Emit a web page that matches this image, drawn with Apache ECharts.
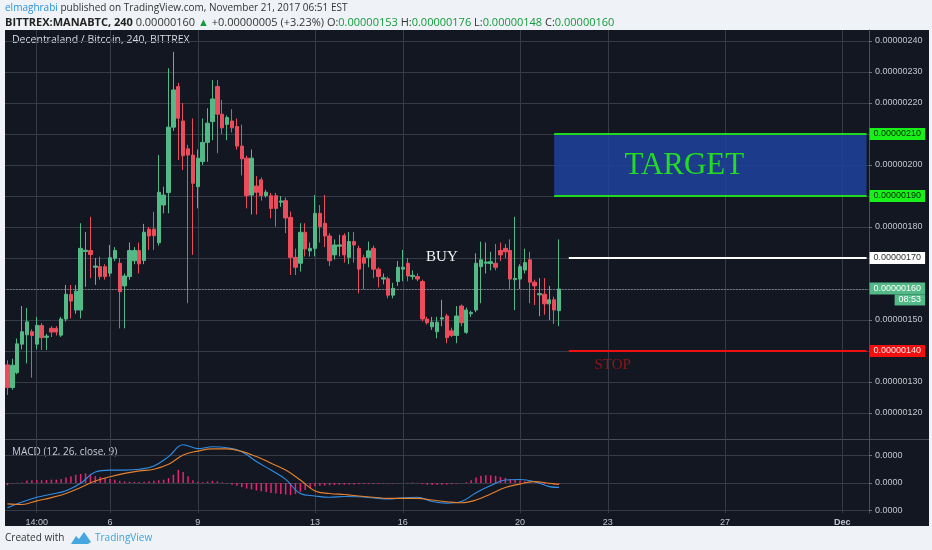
<!DOCTYPE html>
<html><head><meta charset="utf-8">
<script src="https://cdn.jsdelivr.net/npm/echarts@6/dist/echarts.min.js"></script>
<style>
html,body{margin:0;padding:0;background:#eff2f6;}
#pane{position:absolute;left:5px;top:30px;width:924px;height:496px;background:#131722;}
#c{position:absolute;left:0;top:0;width:932px;height:550px;}
</style>
</head><body><div id="pane"></div><div id="c"></div>
<script>
// ---- data (prices in satoshi = 1e-8 BTC) ----
const startTimeUTC = Date.UTC(2017, 10, 2, 12, 0);
const slotCount = 177;
const tickTimes = ['11-03 12:00','11-06 00:00','11-09 00:00','11-13 00:00','11-16 00:00','11-20 00:00','11-23 00:00','11-27 00:00','12-01 00:00'];
const tickLabels = ['14:00','6','9','13','16','20','23','27','Dec'];
const priceTicks = [120,130,140,150,160,170,180,190,200,210,220,230,240];
const macdTicks = [-10,0,10];

const opens = [135.5,128.2,133,142.2,145.2,146.2,142.2,148.2,144.4,147.3,
147.3,145.1,150.3,158.2,153.2,153.2,172.1,172.4,167,167.2,
167.2,165.1,169.9,168.3,161,164,169.1,172.4,169.2,179.3,
179.3,174.9,187.1,191.1,212.2,225.3,214.2,205.2,203.2,193,
201.1,207.3,214,225.3,216.4,213.1,214.2,212.4,206.1,202.2,
190.3,193.2,195.2,190.1,190.1,190.1,188.0,188.5,183.1,170.2,
168.3,178.3,172.3,173.1,184.4,181.2,177.1,171,173.8,177.2,
170.2,175.3,173.1,170.1,170.2,173.1,166.4,163.2,163.3,158,
162.4,166.4,168.3,164,164,162.4,150.3,147.8,146.2,150.3,
151.3,146.5,145,154.5,146,152.0,153.2,167.2,168.3,168.2,
168.3,172.4,173.1,172.4,163.0,163.2,166.1,169.4,162.2,158.1,
158.3,155.2,156.5,153];
const closes = [128.2,135.4,142.3,146.2,149.4,145.0,148.3,144.3,144.8,146.1,
146.1,150.3,158.3,156.1,159.3,173.1,172.5,171.1,167.4,164,
164,170.1,172.4,159.1,164.2,172.4,172.4,168.1,178.3,177.1,
177.2,191.2,190.3,212.2,224.2,215.1,203,203.2,194.1,202.2,
207.3,213.5,221.3,216.4,212,215.3,212,206.1,202,190.1,
202.2,191.2,190.1,191.2,186,186,188.4,182.9,170.2,167,
178.3,172.9,173.1,184.4,180.1,177.1,169.1,174.2,174.2,171,
175.3,174.2,166.4,168.3,172.3,166.4,164,163.6,158,160.2,
167,167,164.2,164.4,163.2,150.3,149.1,149.3,149.3,150.7,
144.3,145,151.3,149.1,153.2,152.4,168.3,169.4,168.7,168.8,
167,171,172,163.2,163.4,167.2,168.5,162.2,161,158.5,
155.2,156.5,153.2,160];
const lows = [125.8,127.5,132.5,140.5,136,131.4,140.5,140.3,140.3,144.5,
145,144.5,149.5,150.5,152,150.5,160.7,163.5,161.3,163,
163,164,169,147.3,147.3,163,168,165,168,172.6,
172.6,174,184.4,184.4,211,201.6,198.4,155.4,171,186,
200,201,208,203.8,210,208,210.5,205,196.6,186,
184,184,188.5,189.5,182.8,180.1,186.5,178,164.5,164.5,
165.6,170.5,170.5,170.5,175,173.5,167.4,169.5,170.5,168.5,
168,168.5,158.6,160,167,163.5,160.5,161.5,157,157,
161,162.5,162.5,163,162.5,149.5,148.5,146.8,144.1,148,
142.5,144.5,142.5,148,145.5,151,152.5,155.4,165,166,
166,169,170,160,153.2,160,165,155.4,154.8,151.2,
151.7,150,148.7,148];
const highs = [137,137.5,144,154.5,153.9,147,151,149,145.5,148,
148,151,161.3,161.3,161.3,181.2,178.4,183.3,170,170.4,
168,174.2,173.5,170,165,175,173.5,175,181,180,
184.9,203.2,193,231.2,236.5,226.5,220,206.5,215,205,
215,218.3,227.4,227.4,221,216,218,215,213,203,
205,196.4,196,192,191,191,190,189.5,185,173,
181.2,181.2,175,190.3,187.1,190.3,178,176,177.5,178,
178.4,178.4,174,171,175.3,174,167,165,164,162,
169,172.6,170,166,165,163,151,151,151,156.5,
152,147.5,154.5,155,154,153,171.5,175.3,175,172,
174.5,175,174.5,176,183.3,168,173,172,163,163.5,
163.5,161,157.5,176];

const macdSlots = [0,3,6,9,12,15,18,21,24,27,30,33,36,39,42,45,48,51,54,57,60,63,66,69,72,75,78,81,84,87,90,93,96,99,102,105,108,111,113];
const macdLine = [-9.0,-6.9,-5.2,-4.1,-2.8,-0.1,4.0,4.7,4.7,5.0,6.2,9.6,13.9,12.5,13.2,12.8,11.4,7.8,4.7,1.3,-3.8,-4.7,-5.2,-4.9,-5.0,-5.4,-5.8,-5.4,-5.2,-6.7,-7.3,-6.7,-3.5,-0.9,1.1,1.3,0.5,-1.3,-1.6];
const signalLine = [-7.6,-7.8,-6.5,-5.3,-3.8,-1.6,0.7,2.3,3.5,4.4,5.0,6.8,10.2,11.6,12.4,12.4,11.5,9.6,7.2,4.7,1.1,-2.9,-3.8,-4.2,-4.7,-5.2,-5.6,-5.6,-5.6,-6.2,-6.8,-7.2,-6.2,-4.0,-1.6,-0.4,0.5,-0.1,-0.5];
const histogram = [-0.8,-0.1,0.1,0.2,0.9,1.0,1.1,1.0,1.1,1.2,
1.2,1.5,2.0,2.5,3.0,3.3,3.5,3.2,2.5,2.2,
1.8,1.5,1.2,0.8,0.6,0.5,0.4,0.4,0.5,0.6,
0.8,1.0,1.2,1.8,3.0,4.8,4.0,2.5,1.0,0.5,
0.3,0.5,0.8,0.6,0.3,-0.2,-0.6,-1.0,-1.5,-2.0,
-2.3,-2.7,-3.0,-3.3,-3.6,-3.8,-4.0,-4.2,-4.4,-4.0,
-3.2,-2.5,-1.8,-1.2,-1.0,-0.9,-0.8,-0.7,-0.6,-0.6,
-0.5,-0.5,-0.4,-0.4,-0.3,-0.3,-0.3,-0.2,-0.2,-0.2,
-0.1,0.0,0.1,0.2,0.1,-0.4,-0.6,-0.7,-0.6,-0.6,
-0.5,-0.4,-0.2,0.0,0.3,1.0,2.0,2.6,2.8,2.8,
2.6,2.2,1.8,1.5,1.2,0.9,0.6,0.3,0.1,-0.2,
-0.4,-0.5,-0.6,-0.4];

const targetHigh = 210, targetLow = 190, buyLevel = 170, stopLevel = 140, lastPrice = 160;

// ---- build ----
function two(n){return (n<10?'0':'')+n;}
const categories = [];
for (let i = 0; i < slotCount; i++) {
  const d = new Date(startTimeUTC + i * 4 * 3600 * 1000);
  categories.push(two(d.getUTCMonth()+1) + '-' + two(d.getUTCDate()) + ' ' + two(d.getUTCHours()) + ':' + two(d.getUTCMinutes()));
}
const tickMap = {};
tickTimes.forEach((t, i) => { tickMap[t] = tickLabels[i]; });
const isTick = (idx, val) => tickMap[val] !== undefined;
const candleData = opens.map((o, i) => [o, closes[i], lows[i], highs[i]]);
const fmtPrice = v => (v / 1e8).toFixed(8);
const lastSlot = slotCount - 1;
const firstFuture = opens.length - 1;

const UP = '#53b987', DOWN = '#eb4d5c';
const gridColor = '#363b48';
const axisText = '#c3c6ce';
const sans = 'Liberation Sans, Arial, sans-serif';
const ui = 'Open Sans, sans-serif';
const serif = 'Liberation Serif, Times New Roman, serif';

const tag = (bg, fg, text) => ({show:true, position:'end', distance:3, formatter:text, backgroundColor:bg, color:fg,
  fontSize:9, fontFamily:sans, padding:[2,4,1,4]});

const chart = echarts.init(document.getElementById('c'), null, {renderer:'canvas'});
chart.setOption({
  animation: false,
  backgroundColor: 'transparent',
  grid: [
    {left:5, right:63, top:30, height:409},
    {left:5, right:63, top:439, height:74}
  ],
  xAxis: [
    {type:'category', gridIndex:0, data:categories, boundaryGap:true,
     axisLine:{show:false}, axisTick:{show:false}, axisLabel:{show:false},
     splitLine:{show:true, interval:isTick, alignWithLabel:true, lineStyle:{color:gridColor, width:1}}},
    {type:'category', gridIndex:1, data:categories, boundaryGap:true,
     axisLine:{show:false}, axisTick:{show:false},
     axisLabel:{show:true, interval:isTick, alignWithLabel:true, margin:5, color:axisText, fontSize:9, fontFamily:sans,
       formatter: v => v === tickTimes[tickTimes.length-1] ? '{b|' + tickMap[v] + '}' : tickMap[v],
       rich:{b:{fontWeight:'bold', color:axisText, fontSize:9, fontFamily:sans}}},
     splitLine:{show:true, interval:isTick, alignWithLabel:true, lineStyle:{color:gridColor, width:1}}}
  ],
  yAxis: [
    {type:'value', gridIndex:0, position:'right', min:111.6, max:243.55,
     axisLine:{show:true, lineStyle:{color:'#4a4e59'}},
     axisTick:{show:true, length:3, customValues:priceTicks, lineStyle:{color:'#6b6f7a'}},
     axisLabel:{show:true, customValues:priceTicks, margin:6, color:axisText, fontSize:9, fontFamily:sans, formatter:fmtPrice},
     splitLine:{show:true, lineStyle:{color:gridColor}}},
    {type:'value', gridIndex:1, position:'right', min:-10.9, max:16,
     axisLine:{show:true, lineStyle:{color:'#4a4e59'}},
     axisTick:{show:true, length:3, customValues:macdTicks, lineStyle:{color:'#6b6f7a'}},
     axisLabel:{show:true, customValues:macdTicks, margin:6, color:axisText, fontSize:9, fontFamily:sans, formatter:() => '0.0000'},
     splitLine:{show:true, lineStyle:{color:gridColor}}}
  ],
  series: [
    {type:'candlestick', xAxisIndex:0, yAxisIndex:0, data:candleData, barWidth:'80%',
     itemStyle:{color:UP, color0:DOWN, borderColor:UP, borderColor0:DOWN, borderColorDoji:UP, borderWidth:1},
     markArea:{silent:true, itemStyle:{color:'rgba(30,66,158,0.85)'},
       label:{show:true, position:'inside', offset:[-26,1], formatter:'TARGET', color:'#22dd22', fontFamily:serif, fontSize:31},
       data:[[{coord:[firstFuture - 1, targetHigh]}, {coord:[lastSlot, targetLow]}]]},
     markLine:{silent:true, symbol:['none','none'], animation:false,
       data:[
         [{coord:[firstFuture - 1, targetHigh], lineStyle:{color:'#1fd81f', width:2, type:'solid'}, label:tag('#19f019','#082808',fmtPrice(targetHigh))}, {coord:[lastSlot, targetHigh]}],
         [{coord:[firstFuture - 1, targetLow], lineStyle:{color:'#1fd81f', width:2, type:'solid'}, label:tag('#19f019','#082808',fmtPrice(targetLow))}, {coord:[lastSlot, targetLow]}],
         [{coord:[firstFuture + 2, buyLevel], lineStyle:{color:'#ffffff', width:2, type:'solid'}, label:tag('#ffffff','#333333',fmtPrice(buyLevel))}, {coord:[lastSlot, buyLevel]}],
         [{coord:[firstFuture + 2, stopLevel], lineStyle:{color:'#f01010', width:2, type:'solid'}, label:tag('#f01010','#ffe6e6',fmtPrice(stopLevel))}, {coord:[lastSlot, stopLevel]}],
         [{coord:[0, lastPrice], lineStyle:{color:'#a3a8b3', width:1, type:[1,2]},
           label:{show:true, position:'end', distance:3, offset:[0,5], formatter:'{a|' + fmtPrice(lastPrice) + '}\n{b|08:53}',
             rich:{a:{backgroundColor:UP, color:'#ffffff', fontSize:9, fontFamily:sans, padding:[2,4,1,4]},
                   b:{backgroundColor:UP, color:'#ffffff', fontSize:9, fontFamily:sans, padding:[1,4,1,4], align:'right'}}}},
          {coord:[lastSlot, lastPrice]}]
       ]},
     markPoint:{silent:true, symbol:'circle', symbolSize:0, animation:false,
       data:[
         {coord:[89.4, 170.4], label:{show:true, position:'inside', formatter:'BUY', color:'#f4f4f4', fontFamily:serif, fontSize:15}},
         {coord:[123.6, 135.5], label:{show:true, position:'inside', formatter:'STOP', color:'#8e1616', fontFamily:serif, fontSize:15}}
       ]}
    },
    {type:'bar', xAxisIndex:1, yAxisIndex:1, data:histogram, barWidth:1.5, itemStyle:{color:'#e3266f'}},
    {type:'line', xAxisIndex:1, yAxisIndex:1, data:macdSlots.map((s,i)=>[s, macdLine[i]]), symbol:'none', smooth:0.4,
     lineStyle:{color:'#2f8fe6', width:1.1}},
    {type:'line', xAxisIndex:1, yAxisIndex:1, data:macdSlots.map((s,i)=>[s, signalLine[i]]), symbol:'none', smooth:0.4,
     lineStyle:{color:'#e5822e', width:1.1}}
  ],
  graphic: [
    {type:'line', silent:true, shape:{x1:5, y1:439.5, x2:929, y2:439.5}, style:{stroke:'#474b57', lineWidth:1}},
    {type:'text', silent:true, x:5, y:8, style:{verticalAlign:'middle',
      text:'{u|elmaghrabi}{t| published on TradingView.com, November 21, 2017 06:51 EST}',
      rich:{u:{fill:'#2e93dc', fontSize:10, fontFamily:ui}, t:{fill:'#333333', fontSize:10, fontFamily:ui}}}},
    {type:'text', silent:true, x:5, y:23, style:{verticalAlign:'middle',
      text:'{b|BITTREX:MANABTC, 240}{t| 0.00000160 }{g|▲}{t| +0.00000005 (+3.23%) O:}{g|0.00000153}{t| H:}{g|0.00000176}{t| L:}{g|0.00000148}{t| C:}{g|0.00000160}',
      rich:{b:{fill:'#222222', fontSize:11, fontWeight:'bold', fontFamily:ui}, t:{fill:'#333333', fontSize:11, fontFamily:ui}, g:{fill:'#129b3a', fontSize:11, fontFamily:ui}}}},
    {type:'text', silent:true, x:12, y:40, style:{verticalAlign:'middle', text:'Decentraland / Bitcoin, 240, BITTREX', fill:'#d8dbe2', fontSize:10.5, fontFamily:ui}},
    {type:'text', silent:true, x:12, y:452, style:{verticalAlign:'middle', text:'MACD (12, 26, close, 9)', fill:'#c8cbd3', fontSize:10, fontFamily:ui}},
    {type:'text', silent:true, x:5, y:538, style:{verticalAlign:'middle', text:'Created with', fill:'#333333', fontSize:10, fontFamily:ui}},
    {type:'polygon', silent:true, shape:{points:[[71,544],[76,536],[79,539],[84,532],[91,542],[88,544]]}, style:{fill:'#45a6e0'}},
    {type:'text', silent:true, x:95, y:538, style:{verticalAlign:'middle', text:'TradingView', fill:'#3da4dc', fontSize:10, fontFamily:ui}}
  ]
});
</script>
</body></html>
